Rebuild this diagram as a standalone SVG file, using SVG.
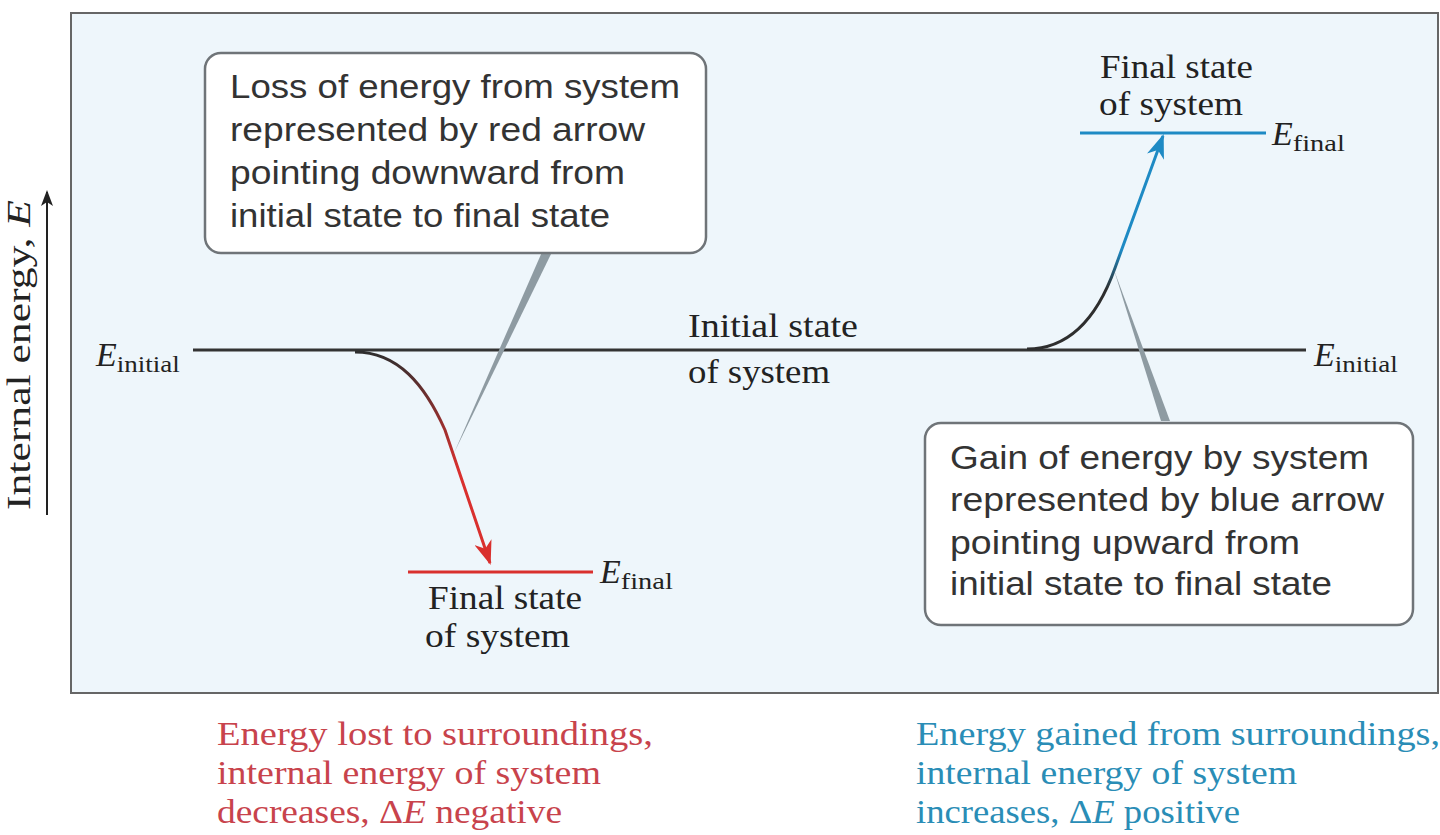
<svg xmlns="http://www.w3.org/2000/svg" width="1440" height="835" viewBox="0 0 1440 835">
<style>
.sans{font-family:"Liberation Sans",Arial,sans-serif;font-size:34px;fill:#333}
.serif{font-family:"Liberation Serif","Times New Roman",serif;font-size:34px;fill:#222}
.sub{font-size:24px}
.it{font-style:italic}
.box{fill:#fff;stroke:#6f7478;stroke-width:2.5}
.ptr{fill:#8e9ba2}
.red{fill:#c8434c}
.blue{fill:#2a8db6}
</style>
<defs>
<linearGradient id="gRed" gradientUnits="userSpaceOnUse" x1="0" y1="352" x2="0" y2="470">
<stop offset="0" stop-color="#2e2e2e"/><stop offset="1" stop-color="#d9302e"/>
</linearGradient>
<linearGradient id="gBlue" gradientUnits="userSpaceOnUse" x1="0" y1="349" x2="0" y2="250">
<stop offset="0" stop-color="#2e2e2e"/><stop offset="0.6" stop-color="#2e2e2e"/><stop offset="1" stop-color="#1e8ac4"/>
</linearGradient>
<marker id="aRed" markerUnits="userSpaceOnUse" markerWidth="26" markerHeight="18" refX="22" refY="9" orient="auto"><path d="M0,0 L24,9 L0,18 L7,9 z" fill="#d9302e"/></marker>
<marker id="aBlue" markerUnits="userSpaceOnUse" markerWidth="26" markerHeight="18" refX="22" refY="9" orient="auto"><path d="M0,0 L24,9 L0,18 L7,9 z" fill="#1e8ac4"/></marker>
<marker id="aBlk" markerUnits="userSpaceOnUse" markerWidth="16" markerHeight="14" refX="14" refY="6" orient="auto"><path d="M0,0 L16,6 L0,12 L4,6 z" fill="#222"/></marker>
</defs>
<rect width="1440" height="835" fill="#fff"/>
<rect x="71" y="13" width="1367" height="680" fill="#eef6fb" stroke="#666" stroke-width="2"/>
<g id="axis">
<line x1="47" y1="515" x2="47" y2="192" stroke="#222" stroke-width="2" marker-end="url(#aBlk)"/>
<text class="serif" transform="translate(30,510) rotate(-90)" textLength="310" lengthAdjust="spacingAndGlyphs">Internal energy, <tspan class="it">E</tspan></text>
</g>
<g id="connectors">
<line x1="193" y1="350" x2="1306" y2="350" stroke="#333" stroke-width="3"/>
<path d="M355,352 C398,352 425,385 445,430 L490,563" fill="none" stroke="url(#gRed)" stroke-width="3" marker-end="url(#aRed)"/>
<line x1="408" y1="572" x2="593" y2="572" stroke="#d9302e" stroke-width="3"/>
<path d="M1027,349 C1075,349 1100,310 1115,268 L1163,136" fill="none" stroke="url(#gBlue)" stroke-width="3" marker-end="url(#aBlue)"/>
<line x1="1080" y1="133" x2="1266" y2="133" stroke="#1e8ac4" stroke-width="3"/>
<polygon class="ptr" points="542,252 552,252 454,453"/>
<polygon class="ptr" points="1161,421 1170,421 1114,270"/>
</g>
<g id="e-initial-left"><text class="serif" x="96" y="366"><tspan class="it">E</tspan><tspan class="sub" dy="6" textLength="63" lengthAdjust="spacingAndGlyphs">initial</tspan></text></g>
<g id="e-initial-right"><text class="serif" x="1314" y="366"><tspan class="it">E</tspan><tspan class="sub" dy="6" textLength="63" lengthAdjust="spacingAndGlyphs">initial</tspan></text></g>
<g id="initial-state"><text class="serif" x="688" y="337" textLength="170" lengthAdjust="spacingAndGlyphs">Initial state</text><text class="serif" x="688" y="383" textLength="142" lengthAdjust="spacingAndGlyphs">of system</text></g>
<g id="loss-box">
<rect class="box" x="205" y="53" width="501" height="200" rx="16"/>
<text class="sans" x="230" y="98" textLength="450" lengthAdjust="spacingAndGlyphs">Loss of energy from system</text>
<text class="sans" x="230" y="141" textLength="415" lengthAdjust="spacingAndGlyphs">represented by red arrow</text>
<text class="sans" x="230" y="184" textLength="395" lengthAdjust="spacingAndGlyphs">pointing downward from</text>
<text class="sans" x="230" y="227" textLength="380" lengthAdjust="spacingAndGlyphs">initial state to final state</text>
</g>
<g id="final-left">
<text class="serif" x="428" y="609" textLength="154" lengthAdjust="spacingAndGlyphs">Final state</text>
<text class="serif" x="425" y="647" textLength="145" lengthAdjust="spacingAndGlyphs">of system</text>
<text class="serif" x="600" y="583"><tspan class="it">E</tspan><tspan class="sub" dy="6" textLength="52" lengthAdjust="spacingAndGlyphs">final</tspan></text>
</g>
<g id="final-right">
<text class="serif" x="1100" y="78" textLength="153" lengthAdjust="spacingAndGlyphs">Final state</text>
<text class="serif" x="1099" y="115" textLength="144" lengthAdjust="spacingAndGlyphs">of system</text>
<text class="serif" x="1272" y="145"><tspan class="it">E</tspan><tspan class="sub" dy="6" textLength="52" lengthAdjust="spacingAndGlyphs">final</tspan></text>
</g>
<g id="gain-box">
<rect class="box" x="925" y="423" width="488" height="202" rx="16"/>
<text class="sans" x="950" y="469" textLength="419" lengthAdjust="spacingAndGlyphs">Gain of energy by system</text>
<text class="sans" x="950" y="511" textLength="434" lengthAdjust="spacingAndGlyphs">represented by blue arrow</text>
<text class="sans" x="950" y="554" textLength="350" lengthAdjust="spacingAndGlyphs">pointing upward from</text>
<text class="sans" x="950" y="595" textLength="382" lengthAdjust="spacingAndGlyphs">initial state to final state</text>
</g>
<g id="loss-caption">
<text class="serif red" x="217" y="745" textLength="436" lengthAdjust="spacingAndGlyphs">Energy lost to surroundings,</text>
<text class="serif red" x="217" y="784" textLength="384" lengthAdjust="spacingAndGlyphs">internal energy of system</text>
<text class="serif red" x="217" y="823" textLength="345" lengthAdjust="spacingAndGlyphs">decreases, Δ<tspan class="it">E</tspan> negative</text>
</g>
<g id="gain-caption">
<text class="serif blue" x="916" y="745" textLength="524" lengthAdjust="spacingAndGlyphs">Energy gained from surroundings,</text>
<text class="serif blue" x="916" y="784" textLength="381" lengthAdjust="spacingAndGlyphs">internal energy of system</text>
<text class="serif blue" x="916" y="823" textLength="324" lengthAdjust="spacingAndGlyphs">increases, Δ<tspan class="it">E</tspan> positive</text>
</g>
</svg>
